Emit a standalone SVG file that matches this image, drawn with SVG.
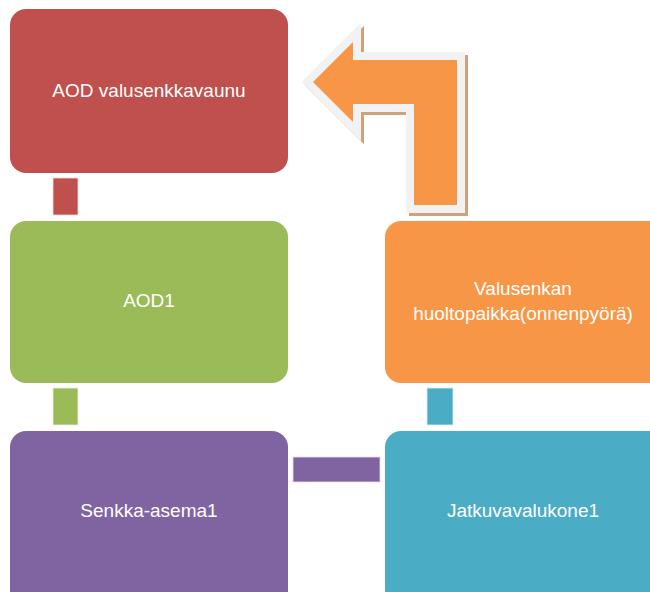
<svg xmlns="http://www.w3.org/2000/svg" width="650" height="592" viewBox="0 0 650 592">
<style>
.box{stroke:none}
.lbl{font-family:"Liberation Sans",Arial,sans-serif;font-size:19px;fill:#ffffff;text-anchor:middle}
</style>
<rect width="650" height="592" fill="#ffffff"/>
<g id="connectors">
<rect x="53" y="178" width="25" height="37" fill="#c0504d" stroke="#f2dcdb" stroke-width="0.8"/>
<rect x="53" y="388" width="25" height="37" fill="#9bbb59" stroke="#ebf1de" stroke-width="0.8"/>
<rect x="293" y="457" width="87" height="25" fill="#8064a2" stroke="#e5e0ec" stroke-width="0.8"/>
<rect x="427" y="388" width="26" height="37" fill="#4bacc6" stroke="#dbeef3" stroke-width="0.8"/>
<g id="arrow">
<polygon points="313,82 353,42 353,60 457,60 457,205 414,205 414,104 353,104 353,122" transform="translate(3,3)" fill="#cfa27e" stroke="#cfa27e" stroke-width="16" stroke-linejoin="miter" stroke-miterlimit="10"/>
<polygon points="313,82 353,42 353,60 457,60 457,205 414,205 414,104 353,104 353,122" fill="#f79646" stroke="#f2f2f2" stroke-width="16" stroke-linejoin="miter" stroke-miterlimit="10"/>
<polygon points="313,82 353,42 353,60 457,60 457,205 414,205 414,104 353,104 353,122" fill="#f79646"/>
</g>
</g>
<g id="node-red">
<rect class="box" x="10" y="9" width="278" height="164" rx="16" fill="#c0504d"/>
<text class="lbl" x="149" y="97">AOD valusenkkavaunu</text>
</g>
<g id="node-green">
<rect class="box" x="10" y="221" width="278" height="162" rx="16" fill="#9bbb59"/>
<text class="lbl" x="149" y="307">AOD1</text>
</g>
<g id="node-purple">
<rect class="box" x="10" y="431" width="278" height="175" rx="16" fill="#8064a2"/>
<text class="lbl" x="149" y="517">Senkka-asema1</text>
</g>
<g id="node-orange">
<rect class="box" x="385" y="221" width="290" height="162" rx="16" fill="#f79646"/>
<text class="lbl" x="523" y="295">Valusenkan</text>
<text class="lbl" x="523" y="320">huoltopaikka(onnenpyörä)</text>
</g>
<g id="node-teal">
<rect class="box" x="385" y="431" width="290" height="175" rx="16" fill="#4bacc6"/>
<text class="lbl" x="523" y="517">Jatkuvavalukone1</text>
</g>
</svg>
